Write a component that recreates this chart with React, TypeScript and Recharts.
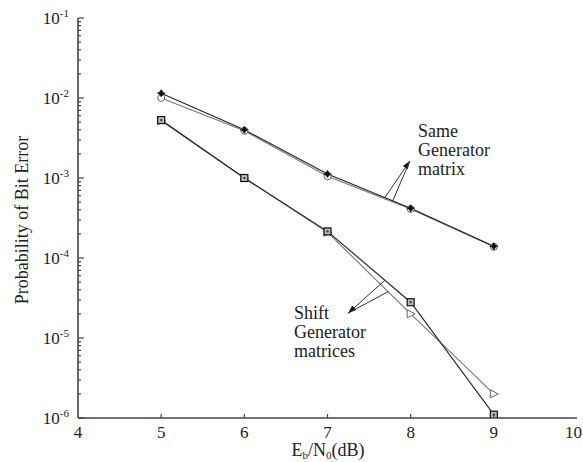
import React from "react";
import {
  LineChart,
  Line,
  XAxis,
  YAxis,
  ReferenceLine,
} from "recharts";

// Eb/N0 (dB)
const ebno = [5, 6, 7, 8, 9];
// same generator matrix, two curves
const sameStar = [1.15e-2, 4.0e-3, 1.12e-3, 4.2e-4, 1.4e-4];
const sameCircle = [1.0e-2, 3.9e-3, 1.05e-3, 4.1e-4, 1.38e-4];
// shift generator matrices, two curves
const shiftSquare = [5.3e-3, 1.0e-3, 2.15e-4, 2.8e-5, 1.1e-6];
const shiftTriangle = [5.2e-3, 1.0e-3, 2.1e-4, 2.0e-5, 2.0e-6];

const xTicks = [4, 5, 6, 7, 8, 9, 10];
const decades = [1e-6, 1e-5, 1e-4, 1e-3, 1e-2, 1e-1];

const rows = ebno.map((x, i) => ({
  x,
  sameStar: sameStar[i],
  sameCircle: sameCircle[i],
  shiftSquare: shiftSquare[i],
  shiftTriangle: shiftTriangle[i],
}));

const yTicks: number[] = [];
decades.slice(0, -1).forEach((d) => {
  for (let m = 1; m <= 9; m++) yTicks.push(m * d);
});
yTicks.push(decades[decades.length - 1]);

const FONT = "'Liberation Serif', 'Times New Roman', serif";
const AXIS = "#444";

const isDecade = (v: number) =>
  Math.abs(Math.log10(v) - Math.round(Math.log10(v))) < 1e-6;

const YTick = (props: any) => {
  const { x, y, payload } = props;
  const v = payload.value;
  const major = isDecade(v);
  return (
    <g>
      <line x1={x} y1={y} x2={x + (major ? 6 : 3)} y2={y} stroke={AXIS} strokeWidth={1.2} />
      {major && (
        <text x={x - 9} y={y} dy="0.35em" textAnchor="end" fontFamily={FONT} fontSize={17} fill="#222">
          10
          <tspan dy={-7} fontSize={11}>{Math.round(Math.log10(v))}</tspan>
        </text>
      )}
    </g>
  );
};

const XTick = (props: any) => {
  const { x, y, payload } = props;
  const last = payload.value === 10;
  return (
    <g>
      {payload.value > 4 && !last && (
        <line x1={x} y1={y} x2={x} y2={y - 4} stroke={AXIS} strokeWidth={1.2} />
      )}
      <text
        x={last ? x + 5 : x}
        y={y + 20}
        textAnchor={last ? "end" : "middle"}
        fontFamily={FONT}
        fontSize={17}
        fill="#222"
      >
        {payload.value}
      </text>
    </g>
  );
};

const StarDot = (props: any) => {
  const { cx, cy } = props;
  return (
    <g>
      <path d={`M${cx},${cy - 4} L${cx + 3},${cy} L${cx},${cy + 4} L${cx - 3},${cy} Z`} fill="#111" />
      <line x1={cx - 4} y1={cy} x2={cx + 4} y2={cy} stroke="#111" strokeWidth={1.2} />
    </g>
  );
};

const CircleDot = (props: any) => {
  const { cx, cy } = props;
  return <circle cx={cx} cy={cy} r={3.5} fill="#fff" stroke="#666" strokeWidth={1} />;
};

const SquareDot = (props: any) => {
  const { cx, cy } = props;
  return (
    <g>
      <rect x={cx - 3.5} y={cy - 3.5} width={7} height={7} fill="#bbb" stroke="#111" strokeWidth={1.2} />
      <rect x={cx - 1} y={cy - 1} width={2} height={2} fill="#333" />
    </g>
  );
};

const TriangleDot = (props: any) => {
  const { cx, cy } = props;
  return (
    <path
      d={`M${cx - 3.5},${cy - 4} L${cx + 4.5},${cy} L${cx - 3.5},${cy + 4} Z`}
      fill="#fff"
      stroke="#666"
      strokeWidth={1}
    />
  );
};

// arrow: line ending in a filled head at the second point
const Arrow = (props: any) => {
  const { x1, y1, x2, y2, head } = props;
  const a = Math.atan2(y2 - y1, x2 - x1);
  const len = 8;
  const w = 3;
  const bx = x2 - len * Math.cos(a);
  const by = y2 - len * Math.sin(a);
  const px = -Math.sin(a) * w;
  const py = Math.cos(a) * w;
  return (
    <g>
      <line x1={x1} y1={y1} x2={x2} y2={y2} stroke="#333" strokeWidth={1} />
      {head && <path d={`M${x2},${y2} L${bx + px},${by + py} L${bx - px},${by - py} Z`} fill="#111" />}
    </g>
  );
};

export default function App() {
  return (
    <div style={{ position: "absolute", left: 0, top: 0, width: 583, height: 462, background: "#fff" }}>
      <LineChart width={583} height={462} data={rows} margin={{ top: 18, right: 6, bottom: 14, left: 0 }}>
        <XAxis
          type="number"
          dataKey="x"
          domain={[4, 10]}
          ticks={xTicks}
          interval={0}
          height={30}
          tickSize={0}
          tickMargin={0}
          tickLine={false}
          axisLine={{ stroke: AXIS, strokeWidth: 1.6 }}
          tick={XTick}
          allowDataOverflow
        />
        <YAxis
          scale="log"
          domain={[1e-6, 1e-1]}
          ticks={yTicks}
          interval={0}
          width={78}
          tickSize={0}
          tickMargin={0}
          tickLine={false}
          axisLine={{ stroke: AXIS, strokeWidth: 1.6 }}
          tick={YTick}
          allowDataOverflow
        />
        <Line dataKey="sameCircle" stroke="#777" strokeWidth={1.1} dot={CircleDot} isAnimationActive={false} />
        <Line dataKey="sameStar" stroke="#222" strokeWidth={1.1} dot={StarDot} isAnimationActive={false} />
        <Line dataKey="shiftTriangle" stroke="#777" strokeWidth={1.1} dot={TriangleDot} isAnimationActive={false} />
        <Line dataKey="shiftSquare" stroke="#222" strokeWidth={1.1} dot={SquareDot} isAnimationActive={false} />
        <ReferenceLine
          segment={[{ x: 7.69, y: 5.7e-4 }, { x: 7.99, y: 1.63e-3 }]}
          ifOverflow="visible"
          shape={(p: any) => <Arrow {...p} head />}
        />
        <ReferenceLine
          segment={[{ x: 7.78, y: 5.05e-4 }, { x: 7.99, y: 1.63e-3 }]}
          ifOverflow="visible"
          shape={(p: any) => <Arrow {...p} />}
        />
        <ReferenceLine
          segment={[{ x: 7.69, y: 5.27e-5 }, { x: 7.25, y: 2.05e-5 }]}
          ifOverflow="visible"
          shape={(p: any) => <Arrow {...p} head />}
        />
        <ReferenceLine
          segment={[{ x: 7.73, y: 3.8e-5 }, { x: 7.25, y: 2.05e-5 }]}
          ifOverflow="visible"
          shape={(p: any) => <Arrow {...p} />}
        />
      </LineChart>
      <svg
        width={583}
        height={462}
        style={{ position: "absolute", left: 0, top: 0, pointerEvents: "none" }}
        fontFamily={FONT}
        fill="#222"
      >
        <text transform="translate(28,220) rotate(-90)" textAnchor="middle" fontSize={18}>
          Probability of Bit Error
        </text>
        <text x={328} y={456} textAnchor="middle" fontSize={18}>
          E<tspan fontSize={11} dy={3}>b</tspan>
          <tspan dy={-3}>/N</tspan>
          <tspan fontSize={11} dy={3}>0</tspan>
          <tspan dy={-3}>(dB)</tspan>
        </text>
        <text x={418} fontSize={18}>
          <tspan x={418} y={137}>Same</tspan>
          <tspan x={418} y={156}>Generator</tspan>
          <tspan x={418} y={175}>matrix</tspan>
        </text>
        <text x={294} fontSize={18}>
          <tspan x={294} y={319}>Shift</tspan>
          <tspan x={294} y={338}>Generator</tspan>
          <tspan x={294} y={357}>matrices</tspan>
        </text>
      </svg>
    </div>
  );
}
